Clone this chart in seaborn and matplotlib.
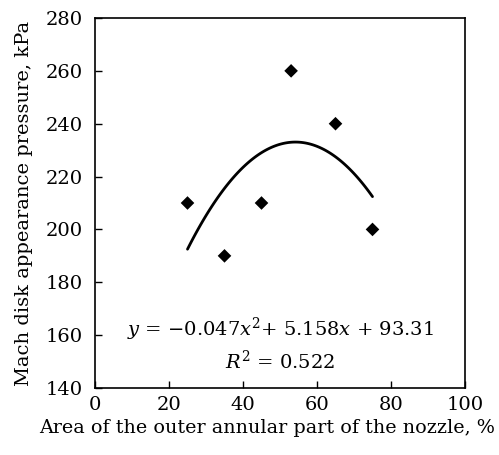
import matplotlib
matplotlib.use("Agg")
import matplotlib.pyplot as plt
import seaborn as sns
import pandas as pd

area = [25, 35, 45, 53, 65, 75]
pressure = [210, 190, 210, 260, 240, 200]
x_ticks = [0, 20, 40, 60, 80, 100]
y_ticks = [140, 160, 180, 200, 220, 240, 260, 280]

sns.set_theme(style="ticks")
plt.rcParams["font.family"] = ["DejaVu Serif"]
plt.rcParams["mathtext.fontset"] = "dejavuserif"
plt.rcParams["text.color"] = "black"

df = pd.DataFrame({"area": area, "pressure": pressure})

fig = plt.figure(figsize=(4.99, 4.55), dpi=100)
ax = fig.add_axes([95/499, 1-388/455, 370/499, 370/455])

sns.regplot(data=df, x="area", y="pressure", order=2, ci=None, ax=ax, marker="D",
            scatter_kws=dict(s=48, color="black", edgecolor="none", alpha=1),
            line_kws=dict(color="black", lw=2))

ax.set_xlim(0, 100)
ax.set_ylim(140, 280)
ax.set_xticks(x_ticks)
ax.set_yticks(y_ticks)
ax.tick_params(direction="in", length=5, width=1, labelsize=14, colors="black")
ax.tick_params(axis="y", pad=9)
ax.tick_params(axis="x", pad=6)
for s in ax.spines.values():
    s.set_color("black")
    s.set_linewidth(1.2)
ax.set_xlabel("Area of the outer annular part of the nozzle, %", fontsize=13.8, color="black")
ax.xaxis.set_label_coords(0.465, -0.084)
ax.set_ylabel("Mach disk appearance pressure, kPa", fontsize=14, color="black")
ax.yaxis.set_label_coords(-0.168, 0.5)
ax.text(50, 162, r"$y$ = −0.047$x^2$+ 5.158$x$ + 93.31", ha="center", va="center", fontsize=14, color="black")
ax.text(50, 150, r"$R^2$ = 0.522", ha="center", va="center", fontsize=14, color="black")

fig.savefig("out.png", dpi=100)
